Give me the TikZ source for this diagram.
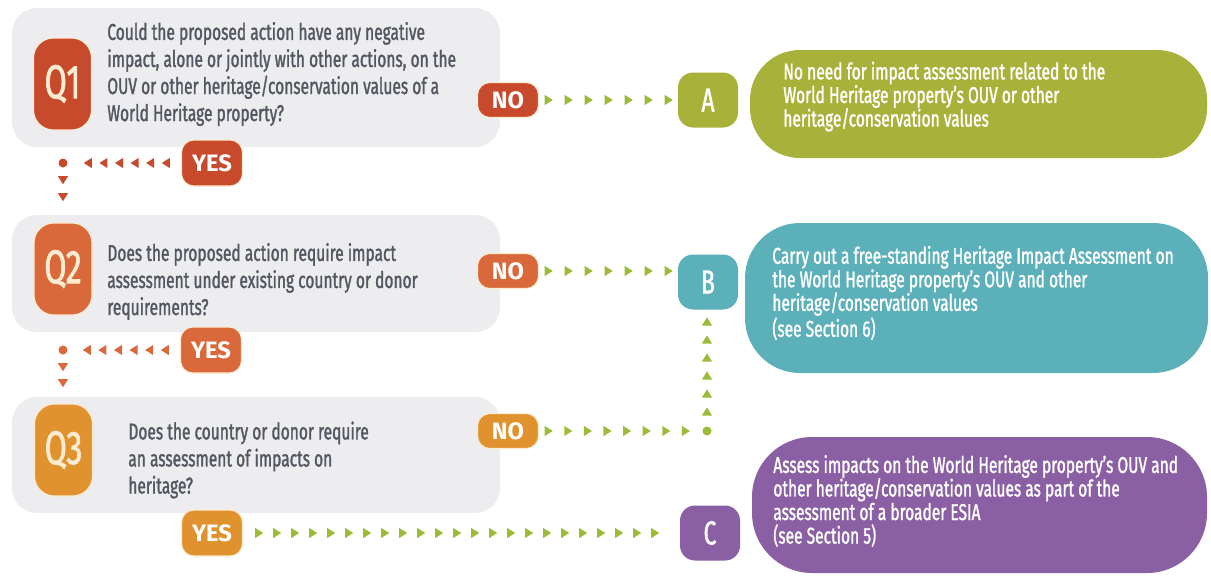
\documentclass[tikz,border=0pt]{standalone}
\usepackage{fontspec}
\usetikzlibrary{calc,decorations.markings}

\newfontfamily\condfont[FakeStretch=0.68, FakeBold=1.3]{Fira Sans}
\newfontfamily\tagfont{Fira Sans}

\definecolor{qred}{HTML}{C84A2D}
\definecolor{qorange}{HTML}{D9693A}
\definecolor{qamber}{HTML}{E0922E}
\definecolor{outa}{HTML}{A8B23A}
\definecolor{outb}{HTML}{5BB0B9}
\definecolor{outc}{HTML}{8B5FA4}
\definecolor{trailgreen}{HTML}{9CBB3A}
\definecolor{qgrey}{HTML}{EDEDEF}
\definecolor{qink}{HTML}{525760}
\definecolor{cream}{HTML}{FBEBD0}

\tikzset{
	qbox/.style={rectangle, rounded corners=0.5cm, fill=qgrey, minimum width=9.76cm},
	qbadge/.style={rectangle, rounded corners=0.4cm, fill=#1, draw=cream, line width=0.6pt,
		minimum width=1.16cm, minimum height=1.84cm, inner sep=0pt, text=cream,
		font=\condfont\fontsize{27}{27}\selectfont},
	qtext/.style={align=left, inner sep=0pt, text=qink, font=\condfont\fontsize{13}{15.4}\selectfont},
	answer/.style={rectangle, rounded corners=0.25cm, fill=#1, draw=cream, line width=0.6pt,
		minimum width=1.22cm, minimum height=0.7cm, inner sep=0pt, text=white,
		font=\tagfont\bfseries\fontsize{13.5}{13.5}\selectfont},
	outletter/.style={rectangle, rounded corners=0.3cm, fill=#1, minimum width=1.2cm,
		minimum height=1.1cm, inner sep=0pt, text=white, font=\condfont\fontsize{19}{19}\selectfont},
	outbox/.style={rectangle, fill=#1},
	outtext/.style={align=left, inner sep=0pt, text=white, font=\condfont\fontsize{13}{13.4}\selectfont},
	dot/.style={circle, fill=#1, minimum size=0.18cm, inner sep=0pt},
	trail/.style 2 args={postaction=decorate, decoration={markings,
		mark=between positions 0 and 1 step #1 with {\fill[#2] (2.4pt,0) -- (-2.2pt,2.9pt) -- (-2.2pt,-2.9pt) -- cycle;}}},
}

\begin{document}
\begin{tikzpicture}

	\useasboundingbox (0,0) rectangle (24.22,-11.54);

	% draw question panels
	\node[qbox, minimum height=2.78cm] (q1box) at (5.12,-1.55) {};
	\node[qbox, minimum height=2.34cm] (q2box) at (5.12,-5.47) {};
	\node[qbox, minimum height=2.32cm] (q3box) at (5.12,-9.10) {};

	\node[qbadge=qred] (q1) at (1.25,-1.68) {Q1};
	\node[qbadge=qorange] (q2) at (1.26,-5.38) {Q2};
	\node[qbadge=qamber] (q3) at (1.27,-9.0) {Q3};

	\node[qtext, anchor=west] (q1text) at (2.14,-1.48) {Could the proposed action have any negative\\impact, alone or jointly with other actions, on the\\OUV or other heritage/conservation values of a\\World Heritage property?};
	\node[qtext, anchor=west] (q2text) at (2.14,-5.63) {Does the proposed action require impact\\assessment under existing country or donor\\requirements?};
	\node[qtext, anchor=west] (q3text) at (2.56,-9.2) {Does the country or donor require\\an assessment of impacts on\\heritage?};

	% draw answer tabs
	\node[answer=qred] (no1) at (10.16,-2.0) {NO};
	\node[answer=qorange] (no2) at (10.16,-5.42) {NO};
	\node[answer=qamber] (no3) at (10.16,-8.62) {NO};
	\node[answer=qred, minimum height=0.92cm] (yes1) at (4.24,-3.26) {YES};
	\node[answer=qorange, minimum height=0.92cm] (yes2) at (4.22,-7.0) {YES};
	\node[answer=qamber, minimum height=0.92cm] (yes3) at (4.24,-10.66) {YES};

	% draw outcomes
	\node[outletter=outa] (a) at (14.16,-2.0) {A};
	\node[outletter=outb] (b) at (14.16,-5.64) {B};
	\node[outletter=outc] (c) at (14.2,-10.66) {C};

	\node[outbox=outa, minimum width=9.14cm, minimum height=2.16cm, rounded corners=1cm] (abox) at (19.57,-2.08) {};
	\node[outbox=outb, minimum width=9.26cm, minimum height=3.0cm, rounded corners=1.1cm] (bbox) at (19.53,-5.96) {};
	\node[outbox=outc, minimum width=9.1cm, minimum height=2.72cm, rounded corners=1.2cm] (cbox) at (19.59,-10.1) {};

	\node[outtext, anchor=west] (atext) at (15.66,-1.93) {No need for impact assessment related to the\\World Heritage property’s OUV or other\\heritage/conservation values};
	\node[outtext, anchor=west] (btext) at (15.44,-5.86) {Carry out a free-standing Heritage Impact Assessment on\\the World Heritage property’s OUV and other\\heritage/conservation values\\(see Section 6)};
	\node[outtext, anchor=west] (ctext) at (15.46,-10.02) {Assess impacts on the World Heritage property’s OUV and\\other heritage/conservation values as part of the\\assessment of a broader ESIA\\(see Section 5)};

	% draw dotted trails
	\node[dot=qred] (turn1) at (1.26,-3.26) {};
	\node[dot=qorange] (turn2) at (1.26,-7.0) {};
	\node[dot=trailgreen] (turn3) at (14.14,-8.62) {};

	\path[trail={0.4cm}{trailgreen}] ([xshift=0.19cm]no1.east) -- ([xshift=-0.18cm]a.west);
	\path[trail={0.4cm}{trailgreen}] ([xshift=0.19cm]no2.east) -- ($(no2.east -| b.west)+(-0.18,0)$);
	\path[trail={0.392cm}{trailgreen}] ([xshift=0.19cm]no3.east) -- ([xshift=-0.31cm]turn3.west);
	\path[trail={0.36cm}{trailgreen}] ([yshift=0.29cm]turn3.north) -- ($(turn3 |- b.south)+(0,-0.21)$);
	\path[trail={0.36cm}{trailgreen}] ([xshift=0.32cm]yes3.east) -- ([xshift=-0.46cm]c.west);

	\path[trail={0.312cm}{qred}] ([xshift=-0.3cm]yes1.west) -- ([xshift=0.34cm]turn1.east);
	\path[trail={0.34cm}{qred}] ([yshift=-0.34cm]turn1.center) -- ($(turn1 |- q2box.north)+(0,0.3)$);
	\path[trail={0.312cm}{qorange}] ([xshift=-0.3cm]yes2.west) -- ([xshift=0.34cm]turn2.east);
	\path[trail={0.32cm}{qorange}] ([yshift=-0.34cm]turn2.center) -- ($(turn2 |- q3box.north)+(0,0.2)$);

\end{tikzpicture}
\end{document}
